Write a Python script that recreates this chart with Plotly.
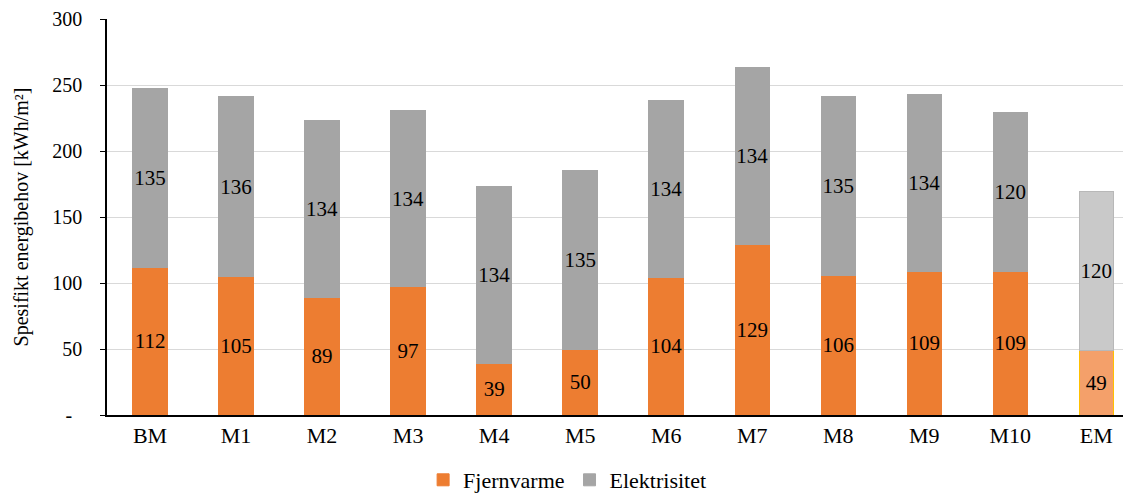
import plotly.graph_objects as go

categories = ["BM", "M1", "M2", "M3", "M4", "M5", "M6", "M7", "M8", "M9", "M10", "EM"]
fjernvarme = [112, 105, 89, 97, 39, 50, 104, 129, 106, 109, 109, 49]
elektrisitet = [135, 136, 134, 134, 134, 135, 134, 134, 135, 134, 120, 120]
y_tick_vals = [0, 50, 100, 150, 200, 250, 300]
y_tick_text = ["-", "50", "100", "150", "200", "250", "300"]

FONT = "Liberation Serif, serif"
ORANGE, ORANGE_LIGHT = "#ED7D31", "#F4A06A"
GREY, GREY_LIGHT = "#A5A5A5", "#C9C9C9"
NBSP = "\u00a0"

n = len(categories)
orange_fill = [ORANGE] * (n - 1) + [ORANGE_LIGHT]
orange_line = [ORANGE] * (n - 1) + ["#FFC000"]
grey_fill = [GREY] * (n - 1) + [GREY_LIGHT]
grey_line = [GREY] * (n - 1) + ["#B8B8B8"]

# the zero label "-" sits a little left of the numeric labels
padded_y_text = [t + NBSP * 2 if t == "-" else t for t in y_tick_text]

label_font = dict(family=FONT, size=21, color="black")

fig = go.Figure()
fig.add_trace(go.Bar(
    x=categories, y=fjernvarme, name="Fjernvarme",
    marker=dict(color=orange_fill, line=dict(color=orange_line, width=1)),
    text=[str(v) for v in fjernvarme], textposition="inside",
    insidetextanchor="middle", textangle=0, constraintext="none",
    textfont=label_font, insidetextfont=label_font,
    width=0.4,
))
fig.add_trace(go.Bar(
    x=categories, y=elektrisitet, name="Elektrisitet",
    marker=dict(color=grey_fill, line=dict(color=grey_line, width=1)),
    text=[str(v) for v in elektrisitet], textposition="inside",
    insidetextanchor="middle", textangle=0, constraintext="none",
    textfont=label_font, insidetextfont=label_font,
    width=0.4,
))

fig.update_layout(
    barmode="stack",
    width=1123, height=501,
    margin=dict(l=107, r=0, t=19, b=86, autoexpand=False),
    paper_bgcolor="white", plot_bgcolor="white",
    font=dict(family=FONT, size=20, color="black"),
    showlegend=True,
    legend=dict(orientation="h", xref="container", x=0.505, xanchor="center",
                yref="container", y=-0.035, yanchor="bottom",
                font=dict(family=FONT, size=22, color="black"), traceorder="normal",
                itemwidth=30),
    xaxis=dict(
        type="category", range=[-0.5, 11.31],
        showline=True, linecolor="black", linewidth=1.5,
        ticks="", tickfont=dict(family=FONT, size=22, color="black"),
        showgrid=False,
    ),
    yaxis=dict(
        range=[0, 300], tickvals=y_tick_vals, ticktext=padded_y_text,
        showline=True, linecolor="black", linewidth=1.5,
        # long invisible major ticks push the labels away from the axis;
        # the short visible tick marks are drawn as minor ticks
        ticks="outside", ticklen=19, tickcolor="rgba(0,0,0,0)",
        minor=dict(tickvals=y_tick_vals, ticks="outside", ticklen=5,
                   tickcolor="black", showgrid=False),
        showgrid=True, gridcolor="#D9D9D9", gridwidth=1,
        zeroline=False,
        tickfont=dict(family=FONT, size=20, color="black"),
        title=dict(text="Spesifikt energibehov [kWh/m²]",
                   font=dict(family=FONT, size=20, color="black"), standoff=18),
    ),
)

fig.write_html("out.html")
